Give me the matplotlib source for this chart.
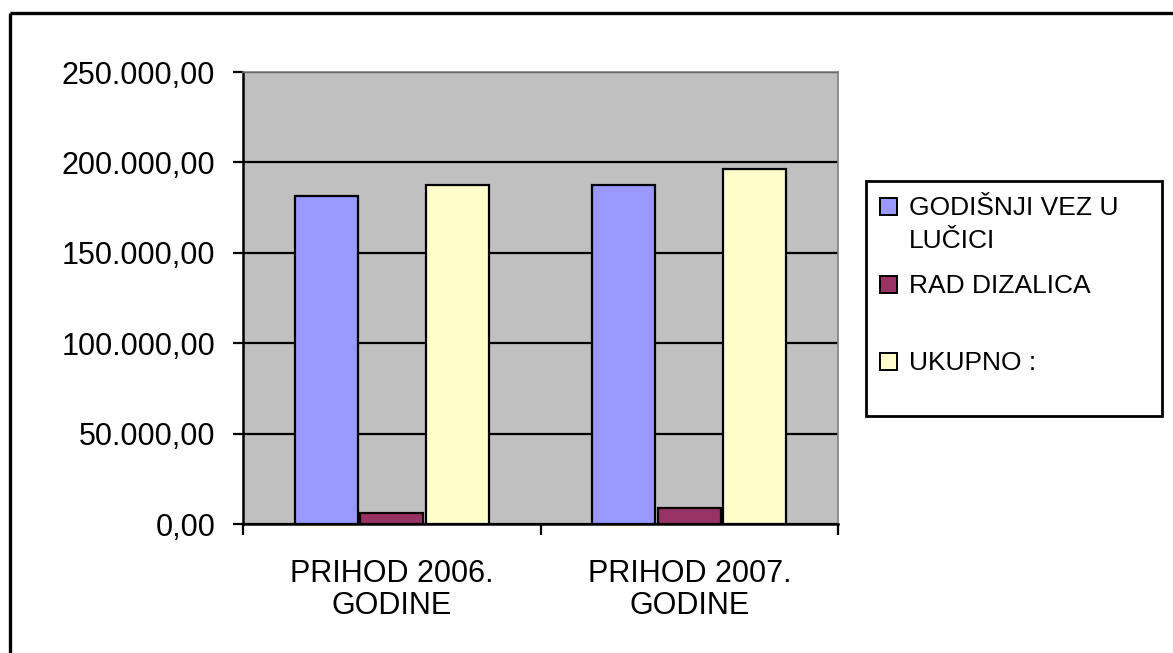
import numpy as np
import matplotlib
matplotlib.use("Agg")
import matplotlib.pyplot as plt
from matplotlib.patches import Rectangle
from matplotlib.ticker import FuncFormatter, FixedLocator

plt.rcParams['font.family'] = ['Liberation Sans', 'DejaVu Sans']

# -----------------------------
# data
# -----------------------------
categories = ["PRIHOD 2006.\nGODINE", "PRIHOD 2007.\nGODINE"]
series_names = ["GODIŠNJI VEZ U\nLUČICI", "RAD DIZALICA", "UKUPNO :"]
vez_lucici = [181300, 187500]
rad_dizalica = [6200, 8600]
ukupno = [187500, 196100]
series_values = [vez_lucici, rad_dizalica, ukupno]
colors = ["#9999FF", "#993366", "#FFFFCC"]
y_ticks = [0, 50000, 100000, 150000, 200000, 250000]


def fmt(v, pos=None):
    # 250000 -> "250.000,00"
    s = f"{v:,.2f}"
    return s.replace(",", "X").replace(".", ",").replace("X", ".")


W, H = 1173, 653
fig = plt.figure(figsize=(W / 100, H / 100), dpi=100)
fig.patch.set_facecolor("white")

# plot area (pixel box: 243..838 x, 72..524 y)
ax = fig.add_axes([243 / W, (H - 524) / H, (838 - 243) / W, (524 - 72) / H])
ax.set_facecolor("#C0C0C0")

x = np.arange(len(categories))
bw = 0.212
step = 0.22
for i, (vals, col) in enumerate(zip(series_values, colors)):
    ax.bar(x + (i - 1) * step, vals, bw, color=col, edgecolor="black",
           linewidth=1.6, zorder=3)

ax.set_xlim(-0.5, len(categories) - 0.5)
ax.set_ylim(0, 250000)

ax.set_yticks(y_ticks)
ax.yaxis.set_major_formatter(FuncFormatter(fmt))
ax.grid(axis="y", color="black", linewidth=1.6, zorder=1)
ax.tick_params(axis="y", length=7, width=1.6, pad=13, labelsize=22,
               color="black", labelcolor="black")

ax.set_xticks(x)
ax.set_xticklabels(categories, linespacing=1.12)
ax.xaxis.set_minor_locator(FixedLocator(np.arange(-0.5, len(categories), 1.0)))
ax.tick_params(axis="x", which="major", length=0, pad=25, labelsize=22)
ax.tick_params(axis="x", which="minor", length=8, width=1.6, color="black")

for side in ["left", "bottom"]:
    ax.spines[side].set_color("black")
    ax.spines[side].set_linewidth(1.8)
for side in ["top", "right"]:
    ax.spines[side].set_color("#808080")
    ax.spines[side].set_linewidth(1.2)

# -----------------------------
# overlay in pixel coords: border + legend
# -----------------------------
ov = fig.add_axes([0, 0, 1, 1], facecolor="none")
ov.set_xlim(0, W)
ov.set_ylim(H, 0)
ov.axis("off")

# outer chart border (only top and left visible)
ov.plot([10, W], [13, 13], color="black", lw=2.4, solid_capstyle="butt")
ov.plot([10, 10], [13, H], color="black", lw=2.4, solid_capstyle="butt")

# legend box
ov.add_patch(Rectangle((866, 181), 296, 235, facecolor="white",
                       edgecolor="black", lw=2.0))
entry_y = [206, 284, 361]
leg_fs = 19
cap = 0.716 * leg_fs * 100 / 72
for name, col, yy in zip(series_names, colors, entry_y):
    ov.add_patch(Rectangle((880, yy - 8.5), 17, 17, facecolor=col,
                           edgecolor="black", lw=1.4))
    for j, line in enumerate(name.split("\n")):
        ov.text(909, yy + cap / 2 + j * 33, line, fontsize=leg_fs,
                va="baseline", ha="left", color="black")

fig.savefig("out.png", dpi=100, facecolor="white")
